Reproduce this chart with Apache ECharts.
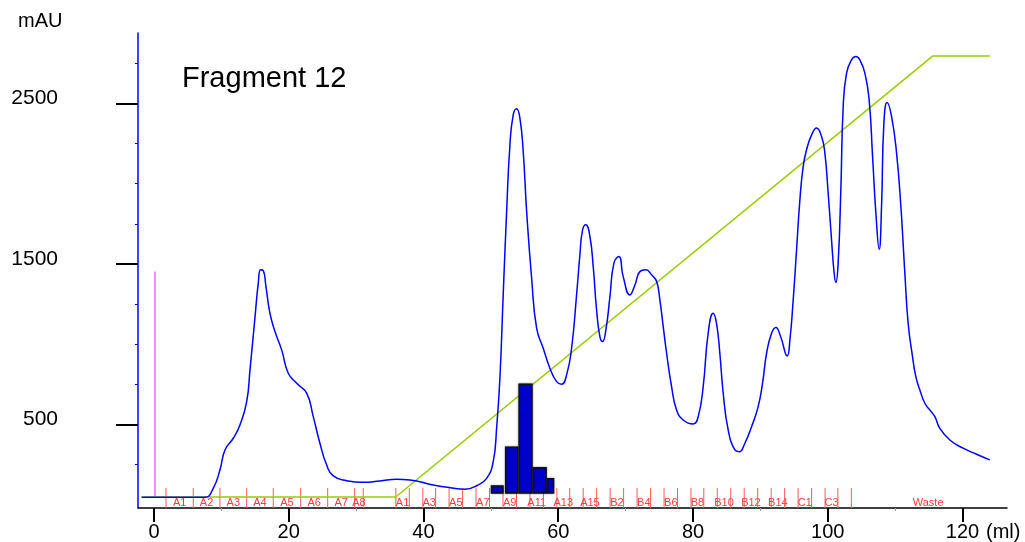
<!DOCTYPE html>
<html>
<head>
<meta charset="utf-8">
<script src="https://cdn.jsdelivr.net/npm/echarts@6/dist/echarts.min.js"></script>
<style>
  html, body { margin: 0; padding: 0; background: #ffffff; }
  #chart { width: 1025px; height: 542px; }
</style>
</head>
<body>
<div id="chart"></div>
<script>
// UV 280 nm absorbance trace: [elution volume (ml), absorbance (mAU)]
const uvTrace = [
  [-1.83, 45], [3.0, 45], [7.57, 45], [8.80, 101], [9.79, 215], [10.54, 340], [11.77, 413],
  [12.76, 496], [13.76, 641], [14.25, 839], [15.0, 1171], [15.48, 1380], [15.83, 1463],
  [16.22, 1458], [16.62, 1359], [17.21, 1193], [17.96, 1078], [18.95, 964], [19.93, 818],
  [21.18, 756], [22.66, 694], [23.64, 548], [24.63, 382], [25.63, 246], [26.61, 178],
  [28.60, 148], [31.06, 138], [33.54, 147], [36.01, 157], [37.99, 153], [41.45, 122],
  [43.92, 105], [46.15, 95], [47.89, 117], [49.37, 163], [50.35, 267], [50.85, 475],
  [51.34, 787], [51.83, 1307], [52.34, 1826], [52.83, 2243], [53.32, 2430], [53.82, 2467],
  [54.31, 2409], [54.80, 2201], [55.31, 1826], [56.05, 1411], [56.79, 1099], [57.77, 974],
  [58.76, 850], [59.76, 766], [60.50, 750], [61.24, 808], [61.98, 974], [62.72, 1307],
  [63.21, 1556], [63.61, 1712], [64.10, 1744], [64.70, 1671], [65.19, 1483], [65.69, 1213],
  [66.18, 1047], [66.58, 1016], [67.07, 1089], [67.67, 1296], [68.26, 1505], [69.00, 1546],
  [69.64, 1421], [70.63, 1307], [71.38, 1369], [72.12, 1452], [73.01, 1463], [73.85, 1432],
  [74.60, 1390], [75.08, 1276], [75.58, 1109], [76.08, 943], [76.82, 735], [77.56, 589],
  [78.54, 527], [80.03, 502], [80.77, 548], [81.51, 735], [82.25, 1068], [82.99, 1193],
  [83.49, 1130], [83.98, 943], [84.48, 694], [85.22, 465], [86.21, 340], [86.85, 329],
  [87.70, 382], [88.69, 485], [89.67, 610], [90.32, 756], [90.92, 943], [91.66, 1068],
  [92.30, 1103], [93.00, 1047], [93.98, 926], [94.38, 1026], [94.87, 1276], [95.37, 1588],
  [95.86, 1899], [96.35, 2107], [96.85, 2211], [97.60, 2305], [98.34, 2347], [99.08, 2294],
  [99.57, 2191], [100.06, 1941], [100.56, 1650], [100.95, 1442], [101.20, 1384],
  [101.54, 1505], [101.94, 1962], [102.29, 2481], [102.79, 2690], [103.53, 2773],
  [104.17, 2793], [104.76, 2773], [105.51, 2690], [106.14, 2523], [106.65, 2170],
  [107.14, 1817], [107.63, 1592], [107.98, 1858], [108.33, 2378], [108.81, 2506],
  [109.47, 2419], [110.21, 2191], [110.85, 1858], [111.44, 1442], [111.93, 1130],
  [112.58, 922], [113.07, 797], [113.67, 714], [114.41, 631], [115.15, 589], [115.89, 548],
  [116.63, 475], [118.12, 402], [120.09, 351], [122.08, 313], [124.05, 278]
];

// Elution gradient (% buffer B)
const gradientVolume = [-1.83, 35.87, 115.6, 124.05];
const gradientPercentB = [0, 0, 100, 100];

// Injection mark
const injectionVolume = 0.15;
const injectionLevels = [47, 1452];

// Fractions collected during sample application
const fractionEdges1 = [1.78, 5.83, 9.79, 13.76, 17.7, 21.77, 25.78, 29.78, 31.06];
const fractionNames1 = ['A1', 'A2', 'A3', 'A4', 'A5', 'A6', 'A7', 'A8'];

// Fractions collected during the gradient
const fractionEdges2 = [
  35.9, 37.9, 39.9, 41.8, 43.8, 45.8, 47.8, 49.8, 51.8, 53.8, 55.8, 57.8, 59.8, 61.7,
  63.7, 65.7, 67.7, 69.7, 71.7, 73.7, 75.7, 77.7, 79.7, 81.6, 83.6, 85.6, 87.6, 89.6,
  91.6, 93.6, 95.6, 97.6, 99.6, 101.5, 103.5
];
const fractionNames2 = [
  'A1', 'A2', 'A3', 'A4', 'A5', 'A6', 'A7', 'A8', 'A9', 'A10', 'A11', 'A12', 'A13', 'A14', 'A15',
  'B1', 'B2', 'B3', 'B4', 'B5', 'B6', 'B7', 'B8', 'B9', 'B10', 'B11', 'B12', 'B13', 'B14', 'B15',
  'C1', 'C2', 'C3', 'C4'
];
const wasteLabel = 'Waste';
const wasteVolume = 114.9;

// Activity of assayed fractions (relative units)
const activityStart = [50.1, 52.2, 54.2, 56.3, 58.4];
const activityEnd = [51.8, 54.0, 56.1, 58.2, 59.3];
const activityValue = [6.4, 42, 100, 23.3, 13.2];

// Axis ticks
const volumeTicks = [0, 20, 40, 60, 80, 100, 120];
const volumeMinorTicks = [10, 30, 50, 70, 90, 110];
const absorbanceTicks = [500, 1500, 2500];
const absorbanceMinorTicks = [250, 500, 750, 1000, 1250, 1500, 1750, 2000, 2250, 2500, 2750];

const X_MIN = -2.37, X_MAX = 126.6;
const Y_MIN = -22, Y_MAX = 2940;
const MARK_TOP = 103;     // height of fraction marks, in mAU
const MARK_LABEL_Y = 9;   // vertical position of fraction labels, in mAU

const FONT = '"Liberation Sans", Arial, Helvetica, sans-serif';

const fractionData = [];
fractionNames1.forEach((n, i) => fractionData.push({
  value: [fractionEdges1[i], fractionEdges1[i + 1], 0],
  label: n, showLabel: true, last: i === fractionNames1.length - 1
}));
fractionNames2.forEach((n, i) => fractionData.push({
  value: [fractionEdges2[i], fractionEdges2[i + 1], 0],
  label: n, showLabel: i % 2 === 0, last: i === fractionNames2.length - 1
}));

function renderFraction(params, api) {
  const item = fractionData[params.dataIndex];
  const from = api.value(0), to = api.value(1);
  const lineStyle = { stroke: '#ff5a5a', lineWidth: 1 };
  const b0 = api.coord([from, Y_MIN]), t0 = api.coord([from, MARK_TOP]);
  const children = [{ type: 'line', shape: { x1: b0[0], y1: b0[1], x2: t0[0], y2: t0[1] }, style: lineStyle }];
  if (item.last) {
    const b1 = api.coord([to, Y_MIN]), t1 = api.coord([to, MARK_TOP]);
    children.push({ type: 'line', shape: { x1: b1[0], y1: b1[1], x2: t1[0], y2: t1[1] }, style: lineStyle });
  }
  if (item.showLabel) {
    const c = api.coord([(from + to) / 2, MARK_LABEL_Y]);
    children.push({
      type: 'text', x: c[0], y: c[1],
      style: { text: item.label, fill: '#ff3b3b', font: '11px ' + FONT, align: 'center', verticalAlign: 'middle' }
    });
  }
  return { type: 'group', children };
}

function renderWaste(params, api) {
  const c = api.coord([api.value(0), MARK_LABEL_Y]);
  return {
    type: 'text', x: c[0], y: c[1],
    style: { text: wasteLabel, fill: '#ff3b3b', font: '11px ' + FONT, align: 'center', verticalAlign: 'middle' }
  };
}

function renderActivity(params, api) {
  const p0 = api.coord([api.value(0), 0]);
  const p1 = api.coord([api.value(1), api.value(2)]);
  return {
    type: 'rect',
    shape: { x: p0[0], y: p1[1], width: p1[0] - p0[0], height: p0[1] - p1[1] },
    style: {
      fill: '#0000cc', stroke: '#111111', lineWidth: 1.5,
      shadowColor: 'rgba(0,0,0,0.45)', shadowBlur: 2
    }
  };
}

const chart = echarts.init(document.getElementById('chart'), null, { renderer: 'canvas' });

chart.setOption({
  animation: false,
  backgroundColor: '#ffffff',
  grid: { left: 138, right: 18, top: 33, bottom: 34, containLabel: false, outerBoundsMode: 'none' },
  graphic: [
    { type: 'text', left: 18, top: 11, style: { text: 'mAU', font: '20px ' + FONT, fill: '#000' } },
    { type: 'text', left: 182, top: 64, style: { text: 'Fragment 12', font: '29px ' + FONT, fill: '#000' } },
    { type: 'text', left: 986, top: 522, style: { text: '(ml)', font: '20px ' + FONT, fill: '#000' } }
  ],
  xAxis: [
    {
      type: 'value', min: X_MIN, max: X_MAX, position: 'bottom',
      axisLine: { show: true, onZero: false, lineStyle: { color: '#000', width: 1.5 } },
      axisTick: { show: true, customValues: volumeTicks, length: 14, lineStyle: { color: '#000', width: 2 } },
      axisLabel: { customValues: volumeTicks, fontSize: 20, fontFamily: FONT, color: '#000', margin: 14 },
      splitLine: { show: false }
    },
    {
      type: 'value', min: X_MIN, max: X_MAX, position: 'bottom', offset: 0,
      axisLine: { show: false, onZero: false },
      axisTick: { show: true, customValues: volumeMinorTicks, length: 3, lineStyle: { color: '#999', width: 1 } },
      axisLabel: { show: false },
      splitLine: { show: false }
    }
  ],
  yAxis: [
    {
      type: 'value', min: Y_MIN, max: Y_MAX, position: 'left', offset: 0,
      axisLine: { show: true, onZero: false, lineStyle: { color: '#0000ff', width: 1.5 } },
      axisTick: { show: true, customValues: absorbanceMinorTicks, length: 3, lineStyle: { color: '#0000ff', width: 1 } },
      axisLabel: { show: false },
      splitLine: { show: false }
    },
    {
      type: 'value', min: Y_MIN, max: Y_MAX, position: 'left', offset: 0,
      axisLine: { show: false, onZero: false },
      axisTick: { show: true, customValues: absorbanceTicks, length: 22, lineStyle: { color: '#000', width: 2 } },
      axisLabel: {
        customValues: absorbanceTicks, fontSize: 21, fontFamily: FONT, color: '#000',
        margin: 80, align: 'right', verticalAlign: 'bottom', lineHeight: 10,
        formatter: v => String(v)
      },
      splitLine: { show: false }
    },
    { type: 'value', min: -2.5, max: 105.2, show: false },
    { type: 'value', min: -13.8, max: 423.2, show: false }
  ],
  series: [
    {
      type: 'custom', name: 'Fractions', xAxisIndex: 0, yAxisIndex: 0,
      renderItem: renderFraction, encode: { x: [0, 1], y: 2 },
      data: fractionData.map(d => d.value), clip: false, z: 2
    },
    {
      type: 'custom', name: 'Waste', xAxisIndex: 0, yAxisIndex: 0,
      renderItem: renderWaste, encode: { x: 0, y: 1 },
      data: [[wasteVolume, 0]], clip: false, z: 2
    },
    {
      type: 'line', name: 'Injection', xAxisIndex: 0, yAxisIndex: 0,
      data: injectionLevels.map(v => [injectionVolume, v]),
      symbol: 'none', lineStyle: { color: '#ff66ff', width: 1.5 }, z: 3
    },
    {
      type: 'line', name: '%B', xAxisIndex: 0, yAxisIndex: 2,
      data: gradientVolume.map((v, i) => [v, gradientPercentB[i]]),
      symbol: 'none', lineStyle: { color: '#99cc00', width: 1.5 }, z: 4
    },
    {
      type: 'custom', name: 'Activity', xAxisIndex: 0, yAxisIndex: 3,
      renderItem: renderActivity, encode: { x: [0, 1], y: 2 },
      data: activityValue.map((v, i) => [activityStart[i], activityEnd[i], v]), z: 5
    },
    {
      type: 'line', name: 'UV', xAxisIndex: 0, yAxisIndex: 0,
      data: uvTrace, smooth: 0.5,
      symbol: 'none', lineStyle: { color: '#0000ff', width: 1.5 }, z: 6
    }
  ]
});
</script>
</body>
</html>
